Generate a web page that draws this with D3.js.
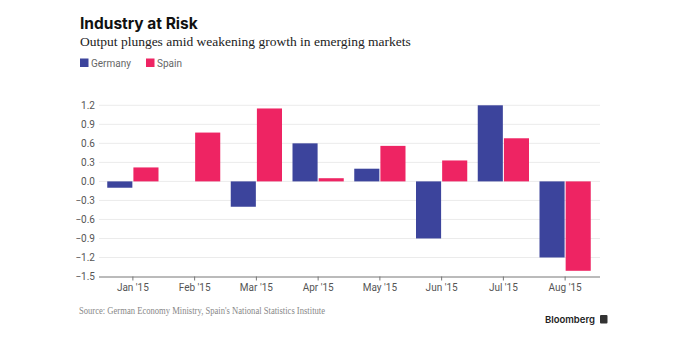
<!DOCTYPE html>
<html><head><meta charset="utf-8">
<script src="https://cdn.jsdelivr.net/npm/d3@7"></script>
<style>body{margin:0;background:#fff}svg{display:block}</style>
</head><body><svg id="c" width="692" height="338"></svg>
<script>
const months = ["Jan '15","Feb '15","Mar '15","Apr '15","May '15","Jun '15","Jul '15","Aug '15"];
const germany = [-0.1, 0, -0.4, 0.6, 0.2, -0.9, 1.2, -1.2];
const spain = [0.22, 0.77, 1.15, 0.05, 0.56, 0.33, 0.68, -1.41];
const seriesNames = ["Germany","Spain"];
const yTicks = [1.2,0.9,0.6,0.3,0.0,-0.3,-0.6,-0.9,-1.2,-1.5];
const colors = ["#3c449c","#ee2463"];

const svg = d3.select("#c");
const x = d3.scaleBand().domain(months).range([102,596]).paddingInner(0.17).paddingOuter(0.085);
const xs = d3.scaleBand().domain(seriesNames).range([0,x.bandwidth()]).paddingInner(0.04);
const y = d3.scaleLinear().domain([-1.5,1.2]).range([276.5,105.3]);

// grid
svg.append("g").selectAll("line").data(yTicks.filter(d=>d!==-1.5)).join("line")
  .attr("x1",99).attr("x2",600).attr("y1",d=>y(d)).attr("y2",d=>y(d))
  .attr("stroke","#ebebeb").attr("stroke-width",1);

// y axis labels
const yAx = svg.append("g").attr("transform","translate(99,0)")
  .call(d3.axisLeft(y).tickValues(yTicks).tickSize(0).tickPadding(4).tickFormat(d3.format(".1f")));
yAx.select(".domain").remove();
yAx.selectAll("text").attr("font-family","Roboto, 'Liberation Sans', sans-serif").attr("font-size",10).attr("fill","#555");

// bars
const data = months.map((m,i)=>({m, vals:[germany[i],spain[i]]}));
const g = svg.append("g");
data.forEach(d=>{
  d.vals.forEach((v,j)=>{
    if (v===0) return;
    g.append("rect")
      .attr("x",x(d.m)+xs(seriesNames[j]))
      .attr("width",xs.bandwidth())
      .attr("y",y(Math.max(0,v)))
      .attr("height",Math.abs(y(v)-y(0)))
      .attr("fill",colors[j]);
  });
});

// x axis
const xAx = svg.append("g").attr("transform",`translate(0,${y(-1.5)})`)
  .call(d3.axisBottom(x).tickSize(4).tickPadding(3));
xAx.select(".domain").attr("d","M99,0.5H600").attr("stroke","#777");
xAx.selectAll(".tick line").attr("stroke","#777");
xAx.selectAll("text").attr("font-family","Roboto, 'Liberation Sans', sans-serif").attr("font-size",10).attr("fill","#555");

// title
svg.append("text").attr("x",80).attr("y",29).text("Industry at Risk")
  .attr("font-family","Inter, Roboto, sans-serif").attr("font-weight",700).attr("font-size",15.5).attr("fill","#111");
svg.append("text").attr("x",80).attr("y",46).text("Output plunges amid weakening growth in emerging markets")
  .attr("font-family","'Liberation Serif', serif").attr("font-size",13.5).attr("fill","#222");

// legend
const legX = [80,146];
seriesNames.forEach((s,i)=>{
  svg.append("rect").attr("x",legX[i]).attr("y",58.5).attr("width",8.5).attr("height",8.5).attr("fill",colors[i]);
  svg.append("text").attr("x",legX[i]+11).attr("y",66.5).text(s)
    .attr("font-family","Roboto, 'Liberation Sans', sans-serif").attr("font-size",10).attr("fill","#666");
});

// source
svg.append("text").attr("x",79).attr("y",314).text("Source: German Economy Ministry, Spain's National Statistics Institute")
  .attr("font-family","'Liberation Serif', serif").attr("font-size",10)
  .attr("textLength",246).attr("lengthAdjust","spacingAndGlyphs").attr("fill","#888");

// Bloomberg logo
svg.append("text").attr("x",545).attr("y",323).text("Bloomberg")
  .attr("font-family","Inter, Roboto, sans-serif").attr("font-weight",600).attr("font-size",9.5).attr("fill","#222");
svg.append("rect").attr("x",600).attr("y",315).attr("width",7.5).attr("height",8.5).attr("rx",1).attr("fill","#333");
</script></body></html>
